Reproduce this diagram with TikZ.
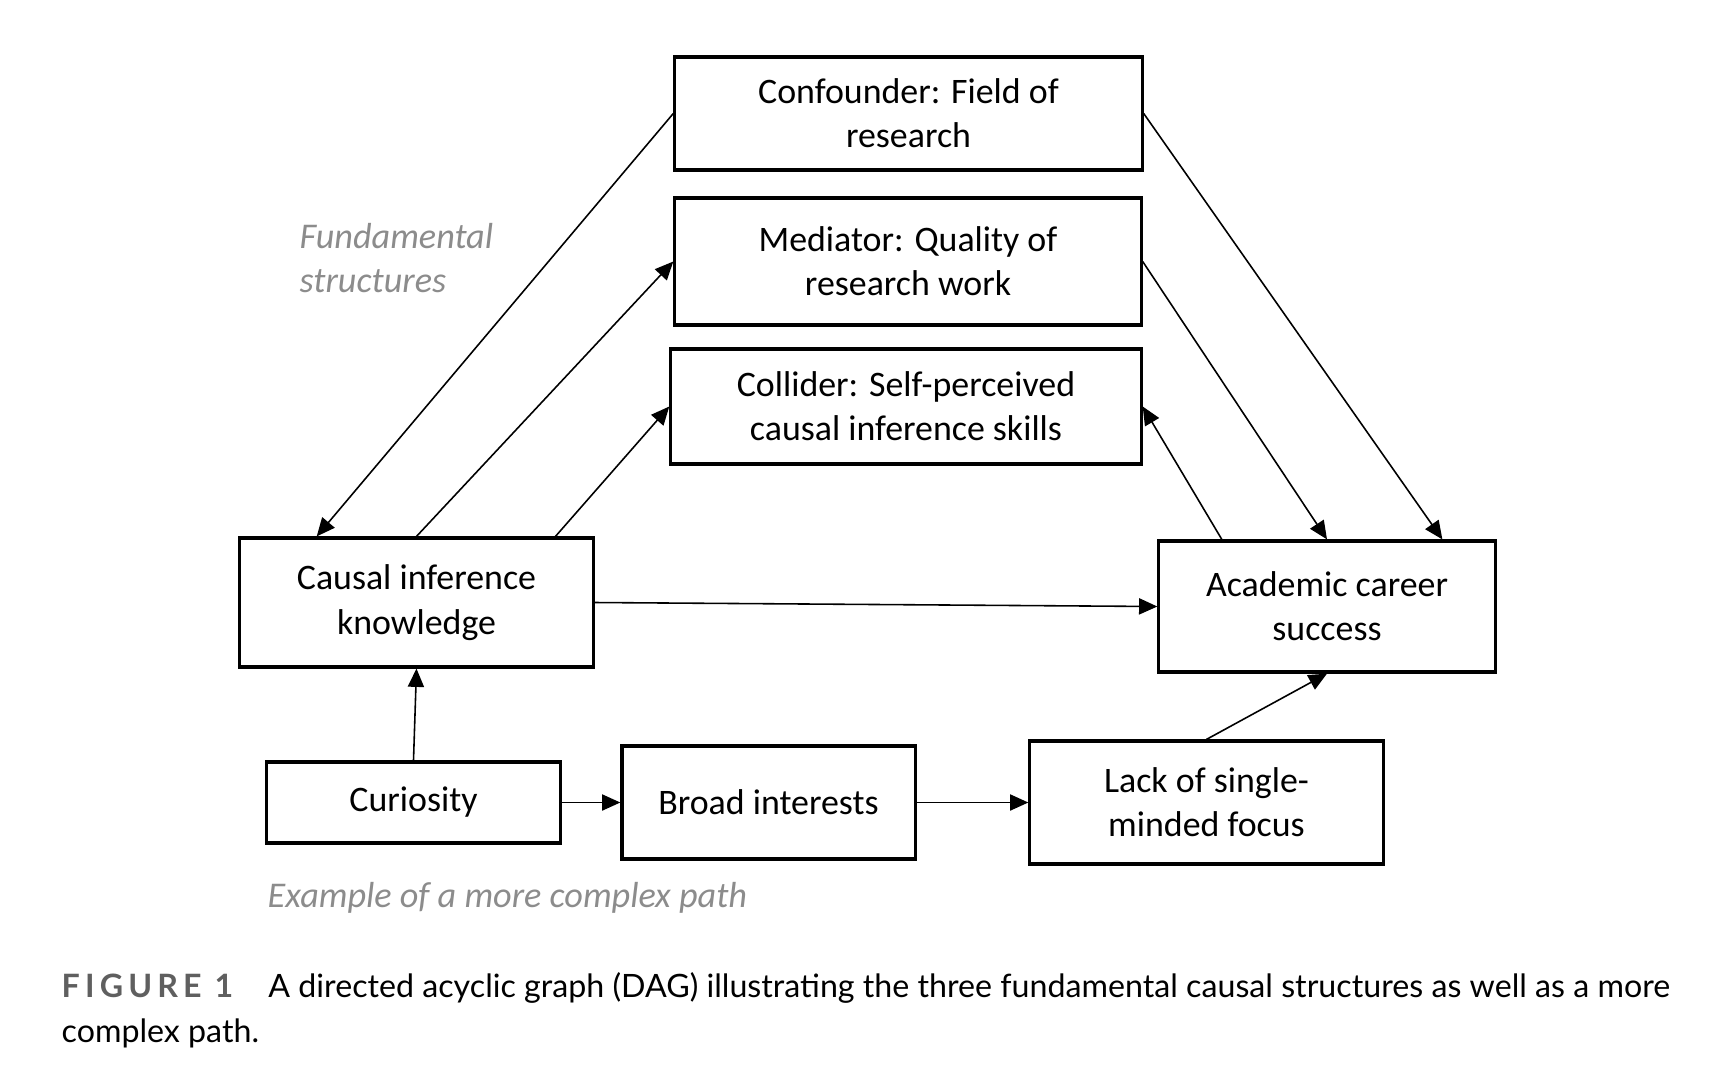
\documentclass[tikz,border=0pt]{standalone}
\usepackage{fontspec}
\setmainfont{Carlito}
\newfontfamily\capfont{Lato}
\newfontfamily\figfont[LetterSpace=16]{Lato}
\usetikzlibrary{arrows.meta,calc}
\definecolor{labelgray}{RGB}{140,140,140}
\definecolor{figgray}{RGB}{95,95,95}
\begin{document}
\begin{tikzpicture}[x=0.01cm, y=-0.01cm,
    box/.style={draw, line width=0.9pt, align=center, inner sep=0pt, font=\fontsize{10.2}{12.6}\selectfont},
    arr/.style={-{Triangle[length=5.2pt,width=4.6pt]}, line width=0.45pt},
    note/.style={text=labelgray, font=\fontsize{10.3}{12.6}\selectfont\itshape, align=left, inner sep=0pt}]
    \useasboundingbox (0,0) rectangle (1732,1090);
    \node[box, minimum width=4.67cm, minimum height=1.13cm] (conf) at (908.5,113.5) {Confounder: Field of\\research};
    \node[box, minimum width=4.66cm, minimum height=1.27cm] (med) at (908,261.5) {Mediator: Quality of\\research work};
    \node[box, minimum width=4.70cm, minimum height=1.15cm] (coll) at (906,406.5) {Collider: Self-perceived\\causal inference skills};
    \node[box, minimum width=3.53cm, minimum height=1.29cm] (cik) at (416.5,602.5) {Causal inference\\knowledge};
    \node[box, minimum width=3.36cm, minimum height=1.31cm] (acs) at (1327,606.5) {Academic career\\success};
    \node[box, minimum width=2.93cm, minimum height=0.81cm] (cur) at (413.5,802.5) {Curiosity};
    \node[box, minimum width=2.93cm, minimum height=1.13cm] (broad) at (768.5,802.5) {Broad interests};
    \node[box, minimum width=3.53cm, minimum height=1.23cm] (lack) at (1206.5,802.5) {Lack of single-\\minded focus};
    \node[note, anchor=west] (fund) at (299,258) {Fundamental\\structures};
    \node[note, anchor=west] (expl) at (267,898) {Example of a more complex path};
    \draw[arr] (conf.west) -- ($(cik.north west)!0.22!(cik.north east)$);
    \draw[arr] (cik.north) -- (med.west);
    \draw[arr] ($(cik.north west)!0.89!(cik.north east)$) -- (coll.west);
    \draw[arr] (med.east) -- (acs.north);
    \draw[arr] (conf.east) -- ($(acs.north west)!0.84!(acs.north east)$);
    \draw[arr] ($(acs.north west)!0.19!(acs.north east)$) -- (coll.east);
    \draw[arr] (cik.east) -- (acs.west);
    \draw[arr] (cur.north) -- (cik.south);
    \draw[arr] (cur.east) -- (broad.west);
    \draw[arr] (broad.east) -- (lack.west);
    \draw[arr] (lack.north) -- (acs.south);
    \node[anchor=west, inner sep=0pt, font=\fontsize{9.15}{12}\selectfont] (cap1) at (61,988) {{\figfont\color{figgray}\bfseries FIGURE 1}\hspace{10pt}{\capfont A directed acyclic graph (DAG) illustrating the three fundamental causal structures as well as a more}};
    \node[anchor=west, inner sep=0pt, font=\fontsize{9.15}{12}\selectfont\capfont] (cap2) at (61,1033) {complex path.};
\end{tikzpicture}
\end{document}
